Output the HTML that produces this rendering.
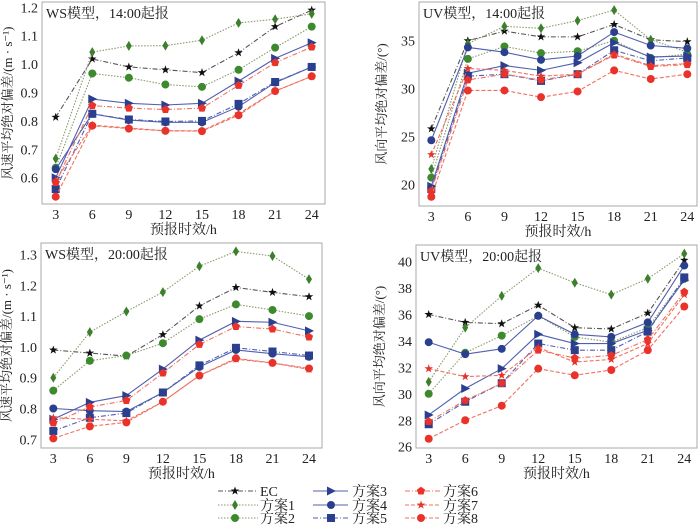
<!DOCTYPE html>
<html><head><meta charset="utf-8">
<style>
body{margin:0;background:#fff;}
svg{display:block;font-family:"Liberation Serif","Noto Serif CJK SC",serif;}
</style></head>
<body>
<svg id="c" width="700" height="532" viewBox="0 0 700 532"></svg>
<script>
const hours=[3,6,9,12,15,18,21,24];
const seriesNames=["EC","方案1","方案2","方案3","方案4","方案5","方案6","方案7","方案8"];
const wsA_EC=[0.813,1.018,0.99,0.98,0.97,1.04,1.132,1.19];
const wsA_1=[0.667,1.042,1.064,1.065,1.084,1.145,1.158,1.177];
const wsA_2=[0.635,0.967,0.952,0.928,0.92,0.98,1.058,1.132];
const wsA_3=[0.60,0.877,0.862,0.856,0.862,0.94,1.02,1.075];
const wsA_4=[0.63,0.825,0.803,0.795,0.795,0.85,0.935,0.99];
const wsA_5=[0.56,0.825,0.805,0.798,0.80,0.86,0.937,0.99];
const wsA_6=[0.583,0.854,0.845,0.84,0.845,0.925,1.005,1.06];
const wsA_7=[0.59,0.785,0.775,0.765,0.765,0.825,0.905,0.957];
const wsA_8=[0.533,0.783,0.773,0.765,0.764,0.82,0.905,0.957];
const uvA_EC=[25.8,35.0,36.0,35.4,35.4,36.7,35.1,34.9];
const uvA_1=[21.6,34.7,36.5,36.3,37.1,38.2,35.1,33.8];
const uvA_2=[20.7,33.1,34.4,33.7,33.9,35.0,33.2,33.6];
const uvA_3=[19.8,31.6,32.4,31.9,32.7,34.8,33.3,33.4];
const uvA_4=[24.6,34.3,33.8,33.0,33.4,35.9,34.5,34.2];
const uvA_5=[19.5,31.3,31.5,30.8,31.5,34.0,32.9,33.2];
const uvA_6=[19.3,30.9,31.5,30.9,31.5,33.5,32.3,32.5];
const uvA_7=[23.1,32.1,31.9,31.3,31.5,33.6,32.4,32.6];
const uvA_8=[18.7,29.8,29.8,29.1,29.7,31.9,31.0,31.5];
const wsB_EC=[0.99,0.98,0.97,1.04,1.133,1.193,1.177,1.163];
const wsB_1=[0.90,1.048,1.115,1.178,1.262,1.31,1.295,1.22];
const wsB_2=[0.858,0.955,0.972,1.012,1.09,1.138,1.12,1.10];
const wsB_3=[0.765,0.82,0.842,0.928,1.022,1.083,1.08,1.052];
const wsB_4=[0.80,0.793,0.79,0.852,0.935,0.99,0.978,0.968];
const wsB_5=[0.727,0.77,0.785,0.852,0.94,0.997,0.985,0.972];
const wsB_6=[0.753,0.805,0.826,0.915,1.008,1.066,1.058,1.032];
const wsB_7=[0.77,0.765,0.76,0.822,0.907,0.96,0.948,0.927];
const wsB_8=[0.703,0.742,0.755,0.822,0.907,0.963,0.948,0.93];
const uvB_EC=[36.0,35.4,35.3,36.7,35.0,34.9,36.1,40.1];
const uvB_1=[30.9,35.0,37.4,39.5,38.4,37.5,38.7,40.6];
const uvB_2=[30.0,33.1,34.4,35.9,34.3,33.9,35.0,38.7];
const uvB_3=[28.4,30.4,31.9,34.5,33.8,33.8,34.8,38.6];
const uvB_4=[33.9,33.0,33.4,35.9,34.5,34.3,35.4,39.7];
const uvB_5=[27.7,29.4,30.8,33.8,33.3,33.3,34.7,38.8];
const uvB_6=[27.9,29.5,30.8,33.3,32.7,32.9,34.1,37.7];
const uvB_7=[31.9,31.3,31.4,33.5,32.4,32.6,33.8,37.5];
const uvB_8=[26.6,28.0,29.1,31.9,31.4,31.8,33.3,36.6];
const ticksWS1=[0.6,0.7,0.8,0.9,1.0,1.1,1.2];
const ticksUV1=[20,25,30,35];
const ticksWS2=[0.7,0.8,0.9,1.0,1.1,1.2,1.3];
const ticksUV2=[26,28,30,32,34,36,38,40];

const NS="http://www.w3.org/2000/svg";
const svg=document.getElementById('c');
function mk(tag,attrs,parent){const e=document.createElementNS(NS,tag);for(const k in attrs)e.setAttribute(k,attrs[k]);(parent||svg).appendChild(e);return e;}
const styles=[
 {line:"#555",dash:"5,2,1,2",mk:"star",fill:"#111"},
 {line:"#8a9a6a",dash:"1.5,1.5",mk:"diamond",fill:"#3d7f2c"},
 {line:"#8a9a6a",dash:"1.5,1.5",mk:"circle",fill:"#3d8a2e"},
 {line:"#5060b0",dash:"",mk:"tri",fill:"#2b3f8f"},
 {line:"#5060b0",dash:"",mk:"circle",fill:"#2b3f8f"},
 {line:"#5060b0",dash:"5,2,1,2",mk:"square",fill:"#2b3f8f"},
 {line:"#f07060",dash:"5,2,1,2",mk:"pent",fill:"#e8322a"},
 {line:"#f07060",dash:"4,2",mk:"star",fill:"#e8322a"},
 {line:"#f07060",dash:"4,2",mk:"circle",fill:"#e8322a"}];
function marker(g,type,x,y,fill){
 let e;
 if(type==="circle")e=mk('circle',{cx:x,cy:y,r:4,fill:fill},g);
 else if(type==="square")e=mk('rect',{x:x-4,y:y-4,width:8,height:8,fill:fill},g);
 else if(type==="diamond")e=mk('polygon',{points:`${x},${y-5} ${x+3},${y} ${x},${y+5} ${x-3},${y}`,fill:fill},g);
 else if(type==="tri")e=mk('polygon',{points:`${x-4},${y-4.5} ${x+5},${y} ${x-4},${y+4.5}`,fill:fill},g);
 else if(type==="pent"){let p=[];for(let i=0;i<5;i++){const a=-Math.PI/2+i*2*Math.PI/5;p.push((x+4.3*Math.cos(a))+","+(y+4.3*Math.sin(a)));}e=mk('polygon',{points:p.join(" "),fill:fill},g);}
 else {let p=[];for(let i=0;i<10;i++){const r=i%2?1.8:4.5;const a=-Math.PI/2+i*Math.PI/5;p.push((x+r*Math.cos(a))+","+(y+r*Math.sin(a)));}e=mk('polygon',{points:p.join(" "),fill:fill},g);}
 return e;
}
function panel(cfg){
 const g=mk('g',{});
 
 
 const xs=h=>cfg.x3+(h-3)/21*(cfg.x24-cfg.x3);
 const ys=v=>cfg.ya+(v-cfg.va)/(cfg.vb-cfg.va)*(cfg.yb-cfg.ya);
 const box=mk('rect',{x:cfg.L,y:cfg.T,width:cfg.R-cfg.L,height:cfg.B-cfg.T,fill:"none",stroke:"#aaa","stroke-width":1},g);
 
 cfg.ticks.forEach(t=>{const y=ys(t);
  const tx=mk('text',{x:cfg.L-4,y:y+5,"text-anchor":"end","font-size":14,fill:"#222"},g);
  tx.textContent=cfg.fmt(t);
  });
 hours.forEach(h=>{const x=xs(h);
  const tx=mk('text',{x:x,y:cfg.B+15,"text-anchor":"middle","font-size":14,fill:"#222"},g);
  tx.textContent=h;
  });
 const xt=mk('text',{x:(cfg.L+cfg.R)/2,y:cfg.B+30,"text-anchor":"middle","font-size":14,fill:"#222"},g);
 xt.textContent="预报时效/h";
 
 const yt=mk('text',{x:0,y:0,"text-anchor":"middle","font-size":13,fill:"#222",transform:`translate(${cfg.ytx},${(cfg.T+cfg.B)/2}) rotate(-90)`},g);
 yt.textContent=cfg.ytitle;
 
 const pt=mk('text',{x:cfg.L+4,y:cfg.T+16,"font-size":14,fill:"#222"},g);
 pt.textContent=cfg.title;
 
 cfg.data.forEach((arr,i)=>{const s=styles[i];
  const pl=mk('polyline',{points:arr.map((v,j)=>xs(hours[j])+","+ys(v)).join(" "),fill:"none",stroke:s.line,"stroke-width":1.1,"stroke-dasharray":s.dash},g);
  
  
  arr.forEach((v,j)=>{const m=marker(g,s.mk,xs(hours[j]),ys(v),s.fill);
   
   });
 });
}
panel({name:"panel-ws-1400",L:42,R:325,T:2,B:204,x3:55.7,x24:311.7,va:1.2,ya:7.3,vb:0.6,yb:177.7,ticks:ticksWS1,fmt:v=>v.toFixed(1),ytx:12,ytitle:"风速平均绝对偏差/(m · s⁻¹)",title:"WS模型，14:00起报",data:[wsA_EC,wsA_1,wsA_2,wsA_3,wsA_4,wsA_5,wsA_6,wsA_7,wsA_8]});
panel({name:"panel-uv-1400",L:419,R:697,T:2,B:206,x3:431.3,x24:687.3,va:35,ya:40.7,vb:20,yb:184.3,ticks:ticksUV1,fmt:v=>v,ytx:386,ytitle:"风向平均绝对偏差/(°)",title:"UV模型，14:00起报",data:[uvA_EC,uvA_1,uvA_2,uvA_3,uvA_4,uvA_5,uvA_6,uvA_7,uvA_8]});
panel({name:"panel-ws-2000",L:41,R:322,T:243,B:448,x3:53.3,x24:309,va:1.2,ya:285.3,vb:0.7,yb:439.3,ticks:ticksWS2,fmt:v=>v.toFixed(1),ytx:11,ytitle:"风速平均绝对偏差/(m · s⁻¹)",title:"WS模型，20:00起报",data:[wsB_EC,wsB_1,wsB_2,wsB_3,wsB_4,wsB_5,wsB_6,wsB_7,wsB_8]});
panel({name:"panel-uv-2000",L:416,R:697,T:245,B:448,x3:428.7,x24:684.3,va:38,ya:288,vb:26,yb:446.7,ticks:ticksUV2,fmt:v=>v,ytx:384,ytitle:"风向平均绝对偏差/(°)",title:"UV模型，20:00起报",data:[uvB_EC,uvB_1,uvB_2,uvB_3,uvB_4,uvB_5,uvB_6,uvB_7,uvB_8]});
const lg=mk('g',{});


const cols=[{x1:218,x2:258,mx:235,lx:260},{x1:313,x2:348,mx:331,lx:352},{x1:405,x2:440,mx:421,lx:443}];
const rows=[491,505,518];
seriesNames.forEach((n,i)=>{const c=cols[Math.floor(i/3)],y=rows[i%3],s=styles[i];
 const e=mk('g',{},lg);
 
 
 mk('line',{x1:c.x1,x2:c.x2,y1:y,y2:y,stroke:s.line,"stroke-width":1.1,"stroke-dasharray":s.dash},e);
 marker(e,s.mk,c.mx,y,s.fill);
 const t=mk('text',{x:c.lx,y:y+5,"font-size":14,fill:"#222"},e);
 t.textContent=n;
});
</script>
</body></html>
